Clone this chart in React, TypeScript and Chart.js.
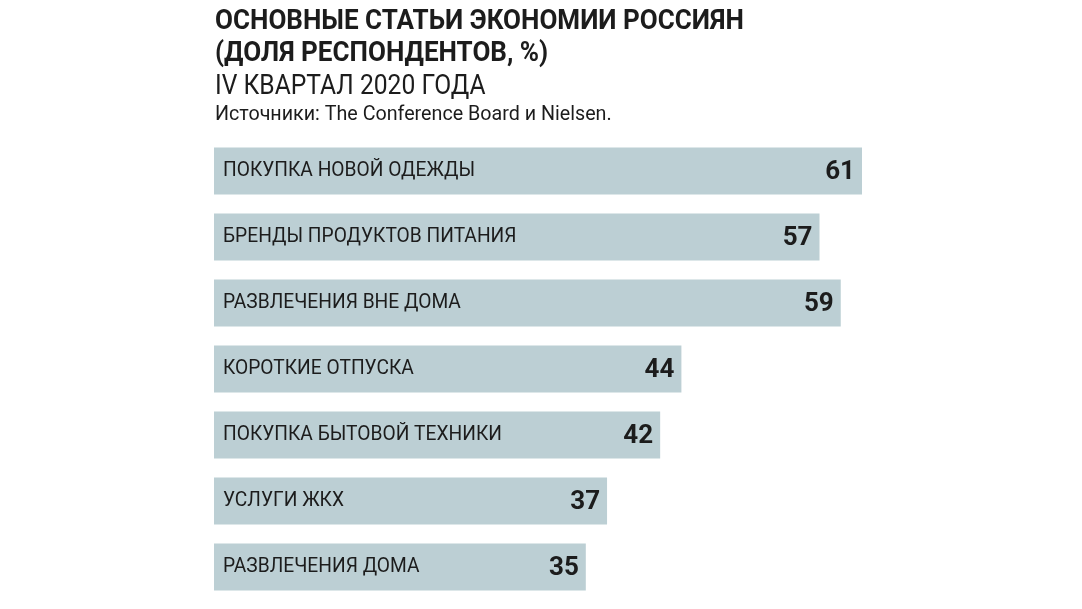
import React, { useEffect, useRef } from "react";
import { Chart, registerables } from "chart.js";

Chart.register(...registerables);

const categories: string[] = [
  "ПОКУПКА НОВОЙ ОДЕЖДЫ",
  "БРЕНДЫ ПРОДУКТОВ ПИТАНИЯ",
  "РАЗВЛЕЧЕНИЯ ВНЕ ДОМА",
  "КОРОТКИЕ ОТПУСКА",
  "ПОКУПКА БЫТОВОЙ ТЕХНИКИ",
  "УСЛУГИ ЖКХ",
  "РАЗВЛЕЧЕНИЯ ДОМА",
];
const values: number[] = [61, 57, 59, 44, 42, 37, 35];

const titleLine1 = "ОСНОВНЫЕ СТАТЬИ ЭКОНОМИИ РОССИЯН";
const titleLine2 = "(ДОЛЯ РЕСПОНДЕНТОВ, %)";
const subtitle = "IV КВАРТАЛ 2020 ГОДА";
const source = "Источники: The Conference Board и Nielsen.";

const FONT = '"Liberation Sans Narrow", "Roboto", "Liberation Sans", sans-serif';
const BAR_COLOR = "#bccfd4";
const TEXT_COLOR = "#1c1c1c";

const labelPlugin = {
  id: "barLabels",
  afterDatasetsDraw(chart: any) {
    const ctx = chart.ctx;
    const meta = chart.getDatasetMeta(0);
    meta.data.forEach((bar: any, i: number) => {
      const { x, y, base } = bar.getProps(["x", "y", "base"], true);
      ctx.save();
      ctx.fillStyle = TEXT_COLOR;
      ctx.textBaseline = "middle";
      ctx.textAlign = "left";
      ctx.font = `20px ${FONT}`;
      ctx.translate(base + 9, y);
      ctx.scale(0.96, 1);
      ctx.fillText(categories[i], 0, 0);
      ctx.restore();
      ctx.save();
      ctx.fillStyle = TEXT_COLOR;
      ctx.textBaseline = "middle";
      ctx.textAlign = "right";
      ctx.font = `bold 26px ${FONT}`;
      ctx.fillText(String(values[i]), x - 7, y + 1);
      ctx.restore();
    });
  },
};

export default function App() {
  const ref = useRef<HTMLCanvasElement | null>(null);

  useEffect(() => {
    if (!ref.current) return;
    const chart = new Chart(ref.current, {
      type: "bar",
      data: {
        labels: categories,
        datasets: [
          {
            data: values,
            backgroundColor: BAR_COLOR,
            borderWidth: 0,
            barPercentage: 0.712,
            categoryPercentage: 1,
          },
        ],
      },
      options: {
        indexAxis: "y",
        responsive: false,
        animation: false,
        layout: { padding: { left: 214, right: 220, top: 138, bottom: 9 } },
        plugins: { legend: { display: false }, tooltip: { enabled: false }, title: { display: false } },
        scales: {
          x: { min: 0, max: 61, display: false },
          y: { display: false },
        },
      },
      plugins: [labelPlugin],
    });
    return () => chart.destroy();
  }, []);

  const line = (extra: React.CSSProperties): React.CSSProperties => ({
    position: "absolute",
    left: 215,
    whiteSpace: "nowrap",
    transformOrigin: "left top",
    fontFamily: FONT,
    color: TEXT_COLOR,
    ...extra,
  });

  return (
    <div style={{ position: "fixed", left: 0, top: 0, width: 1082, height: 609, background: "#fff", overflow: "hidden" }}>
      <canvas ref={ref} width={1082} height={609} style={{ position: "absolute", left: 0, top: 0, display: "block" }} />
      <div style={line({ top: 4, fontWeight: "bold", fontSize: 28, lineHeight: "32px", transform: "scaleX(0.93)" })}>{titleLine1}</div>
      <div style={line({ top: 36, fontWeight: "bold", fontSize: 28, lineHeight: "32px", transform: "scaleX(0.93)" })}>{titleLine2}</div>
      <div style={line({ top: 69, fontSize: 28, lineHeight: "32px", transform: "scaleX(0.88)" })}>{subtitle}</div>
      <div style={line({ top: 102, fontSize: 19.7, lineHeight: "24px" })}>{source}</div>
    </div>
  );
}
